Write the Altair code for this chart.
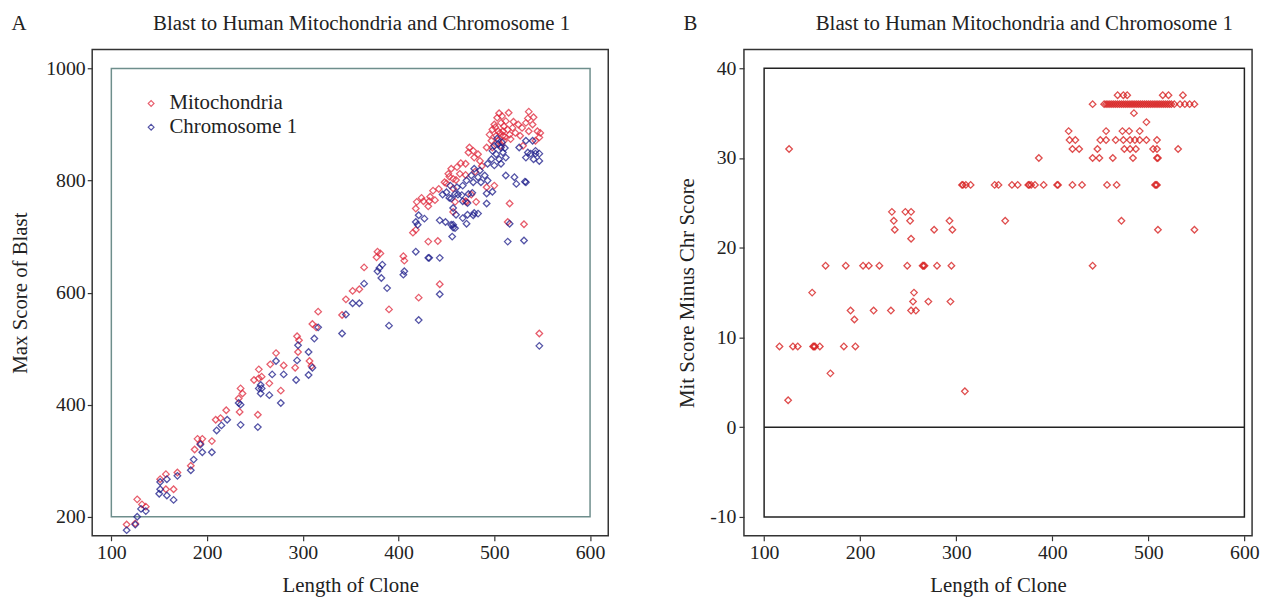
import altair as alt
import pandas as pd

FONT = "Liberation Serif"

# ---------------- Panel A data ----------------
mito_len = [116,125,127,132,136,151,157,157,169,165,
            190,195,193,187,183,205,209,214,220,
            235,237,233,234,254,249,254,257,265,253,
            266,272,280,277,294,296,292,307,309,295,
            310,314,316,341,345,352,359,364,
            378,381,377,390,405,406,
            418,419,426,418,421,431,432,431,424,415,
            433,436,438,442,441,443,
            448,452,453,455,457,461,464,450,457,460,
            457,459,471,481,470,476,
            465,470,474,478,473,483,479,485,470,487,480,
            492,500,
            492,498,507,497,504,510,517,495,502,509,516,522,
            498,504,509,514,519,500,510,507,503,505,508,512,501,506,511,
            515,536,535,541,540,533,529,536,545,548,547,543,
            516,514,531,547,
            525,520,527,530]
mito_score = [186,188,231,222,218,267,276,249,279,249,
              339,339,331,320,291,335,373,376,390,
              429,420,411,387,463,444,447,450,438,382,
              472,492,470,425,522,515,466,478,469,494,
              544,538,566,560,588,603,606,645,
              673,670,663,570,665,657,
              750,762,763,712,591,691,763,754,769,707,
              771,782,765,785,692,615,
              797,812,807,821,803,824,812,795,786,801,
              744,762,762,762,763,775,
              831,810,859,853,850,847,841,835,830,826,816,
              788,791,
              859,859,862,871,871,871,874,882,880,880,882,885,
              891,888,888,891,894,900,897,903,912,920,915,906,895,885,878,
              921,923,911,913,900,903,894,888,888,885,877,871,
              759,726,722,527,
              900,905,880,862]

chr_len = [116,125,127,131,136,151,151,150,158,158,169,165,
           193,186,183,195,205,210,215,221,
           235,233,235,256,254,257,265,256,253,
           268,272,280,277,295,294,293,306,306,310,
           312,316,341,345,352,359,364,
           378,380,383,382,388,390,406,405,
           418,421,427,418,431,421,420,
           432,443,443,443,449,456,457,455,
           457,459,471,478,483,492,457,460,467,472,479,
           446,453,462,467,472,477,
           454,461,467,450,459,466,473,455,
           479,485,476,483,490,471,478,486,493,492,498,
           504,507,498,502,509,497,505,512,493,500,507,
           503,508,500,511,
           533,540,526,535,543,533,541,547,547,543,538,
           521,533,512,523,
           516,514,531,547,532]
chr_score = [176,186,200,214,210,262,249,241,238,267,273,230,
             329,302,283,315,315,354,363,373,
             400,403,364,420,429,429,417,435,360,
             454,478,454,403,506,479,444,494,453,466,
             518,538,527,561,581,581,616,
             638,644,650,626,608,541,638,632,
             726,738,732,673,662,551,721,
             662,662,597,729,726,700,716,721,
             721,715,723,738,741,759,751,739,733,739,742,
             775,769,775,763,760,778,
             791,788,791,779,776,774,776,768,
             821,818,809,806,809,800,797,797,800,777,780,
             865,859,853,847,850,838,838,841,830,827,830,
             875,868,862,858,
             871,871,859,850,853,841,838,835,848,848,848,
             806,797,809,794,
             723,691,693,505,798]

series_names = ["Mitochondria", "Chromosome 1"]

# ---------------- Panel B data ----------------
diff_len = [126,
            468,474,478,515,521,536,
            442,454,456,458,460,462,464,466,468,470,472,474,476,478,480,482,484,486,488,
            490,492,494,496,498,500,502,504,506,508,510,512,514,516,518,520,522,524,
            527,533,538,543,548,
            485, 498,
            417,456,473,480,491,
            418,424,450,456,466,474,481,486,491,498,509,
            421,428,447,475,481,487,505,509,531,
            386,442,449,463,484,509,510,
            306,307,310,315,340,344,358,364,375,376,378,382,391,405,406,421,431,457,467,507,508,509,
            233,247,253,
            235,252,293,351,472,
            236,277,296,510,548,
            253,
            164,185,203,209,220,249,265,266,267,280,295,442,
            150,256,
            255,271,294,
            190,214,232,253,258,
            194,
            116,130,135,151,152,153,158,183,195,
            169, 309, 125]
diff_score = [31,
              37,37,37,37,37,37,
              36,36,36,36,36,36,36,36,36,36,36,36,36,36,36,36,36,36,36,
              36,36,36,36,36,36,36,36,36,36,36,36,36,36,36,36,36,36,
              36,36,36,36,36,
              35, 34,
              33,33,33,33,33,
              32,32,32,32,32,32,32,32,32,32,32,
              31,31,31,31,31,31,31,31,31,
              30,30,30,30,30,30,30,
              27,27,27,27,27,27,27,27,27,27,27,27,27,27,27,27,27,27,27,27,27,27,
              24,24,24,
              23,23,23,23,23,
              22,22,22,22,22,
              21,
              18,18,18,18,18,18,18,18,18,18,18,18,
              15,15,
              14,14,14,
              13,13,13,13,13,
              12,
              9,9,9,9,9,9,9,9,9,
              6, 4, 3]

# reference boxes / lines (data coordinates)
box_a = {"x0": [100], "x1": [600], "y0": [200], "y1": [1000]}
box_b = {"x0": [100], "x1": [600], "y0": [-10], "y1": [40]}
zero_line = {"x0": [100], "x1": [600], "y0": [0]}

x_ticks = [100, 200, 300, 400, 500, 600]
ya_ticks = [200, 400, 600, 800, 1000]
yb_ticks = [-10, 0, 10, 20, 30, 40]

RED_A = "#e0283c"
BLUE_A = "#1c1c8a"
RED_B = "#d82222"
TITLE = "Blast to Human Mitochondria and Chromosome 1"
TXT = "#222"
FS = 21
LABEL_EXPR = "datum.value + ''"


def text_layer(label, dx, dy):
    return alt.Chart(pd.DataFrame({"t": [label]})).mark_text(
        font=FONT, fontSize=FS, color=TXT, align="center", baseline="middle"
    ).encode(x=alt.value(dx), y=alt.value(dy), text="t:N")


# ---------------- Panel A ----------------
df_a = pd.DataFrame({
    "length": mito_len + chr_len,
    "score": mito_score + chr_score,
    "series": [series_names[0]] * len(mito_len) + [series_names[1]] * len(chr_len),
})

xa_scale = alt.Scale(domain=[80, 619], nice=False, zero=False)
ya_scale = alt.Scale(domain=[166, 1034], nice=False, zero=False)
xa_axis = alt.Axis(values=x_ticks, title="Length of Clone", titlePadding=12, labelExpr=LABEL_EXPR)
ya_axis = alt.Axis(values=ya_ticks, title="Max Score of Blast", titlePadding=15, labelExpr=LABEL_EXPR)

box_a_layer = alt.Chart(pd.DataFrame(box_a)).mark_rect(
    fillOpacity=0, stroke="#6e8e8c", strokeWidth=1.5
).encode(
    x=alt.X("x0:Q", scale=xa_scale, axis=xa_axis),
    x2="x1:Q",
    y=alt.Y("y0:Q", scale=ya_scale, axis=ya_axis),
    y2="y1:Q",
)

pts_a = alt.Chart(df_a).mark_point(
    shape="diamond", filled=False, size=44, strokeWidth=1.3, opacity=0.75
).encode(
    x=alt.X("length:Q", scale=xa_scale, axis=xa_axis),
    y=alt.Y("score:Q", scale=ya_scale, axis=ya_axis),
    color=alt.Color(
        "series:N",
        scale=alt.Scale(domain=series_names, range=[RED_A, BLUE_A]),
        sort=series_names,
        legend=alt.Legend(
            title=None, orient="none", legendX=49, legendY=44,
            labelFont=FONT, labelFontSize=FS, labelColor=TXT,
            symbolType="diamond", symbolSize=34, symbolStrokeWidth=1.2,
            rowPadding=2, labelOffset=8,
        ),
    ),
)

chart_a = alt.layer(
    box_a_layer, pts_a, text_layer("A", -74, -26), text_layer(TITLE, 272, -26)
).properties(width=521, height=491)

# ---------------- Panel B ----------------
df_b = pd.DataFrame({"length": diff_len, "diff": diff_score})

xb_scale = alt.Scale(domain=[79, 608], nice=False, zero=False)
yb_scale = alt.Scale(domain=[-12.1, 42.1], nice=False, zero=False)
xb_axis = alt.Axis(values=x_ticks, title="Length of Clone", titlePadding=12, labelExpr=LABEL_EXPR)
yb_axis = alt.Axis(values=yb_ticks, title="Mit Score Minus Chr Score", titlePadding=12,
                   labelPadding=3, labelExpr=LABEL_EXPR)

box_b_layer = alt.Chart(pd.DataFrame(box_b)).mark_rect(
    fillOpacity=0, stroke="#222", strokeWidth=1.5
).encode(
    x=alt.X("x0:Q", scale=xb_scale, axis=xb_axis),
    x2="x1:Q",
    y=alt.Y("y0:Q", scale=yb_scale, axis=yb_axis),
    y2="y1:Q",
)

zero_layer = alt.Chart(pd.DataFrame(zero_line)).mark_rule(
    color="#222", strokeWidth=1.5
).encode(
    x=alt.X("x0:Q", scale=xb_scale, axis=xb_axis),
    x2="x1:Q",
    y=alt.Y("y0:Q", scale=yb_scale, axis=yb_axis),
)

pts_b = alt.Chart(df_b).mark_point(
    shape="diamond", filled=False, size=44, strokeWidth=1.3, opacity=0.8, color=RED_B
).encode(
    x=alt.X("length:Q", scale=xb_scale, axis=xb_axis),
    y=alt.Y("diff:Q", scale=yb_scale, axis=yb_axis),
)

chart_b = alt.layer(
    box_b_layer, zero_layer, pts_b, text_layer("B", -54, -26), text_layer(TITLE, 283, -26)
).properties(width=513, height=491)

chart = alt.hconcat(chart_a, chart_b, spacing=67).resolve_legend(
    color="independent"
).properties(
    padding={"left": 1, "top": 1, "right": 0, "bottom": 0}
).configure_view(
    stroke="#333", strokeWidth=1.5
).configure_axis(
    labelFont=FONT, labelFontSize=20, labelColor=TXT,
    titleFont=FONT, titleFontSize=FS, titleFontWeight="normal", titleColor=TXT,
    domain=False, grid=False, ticks=True, tickSize=5, tickColor="#333", tickWidth=1.2,
    labelPadding=2,
)

chart.save("out.html", embed_options={"renderer": "svg", "actions": False})
